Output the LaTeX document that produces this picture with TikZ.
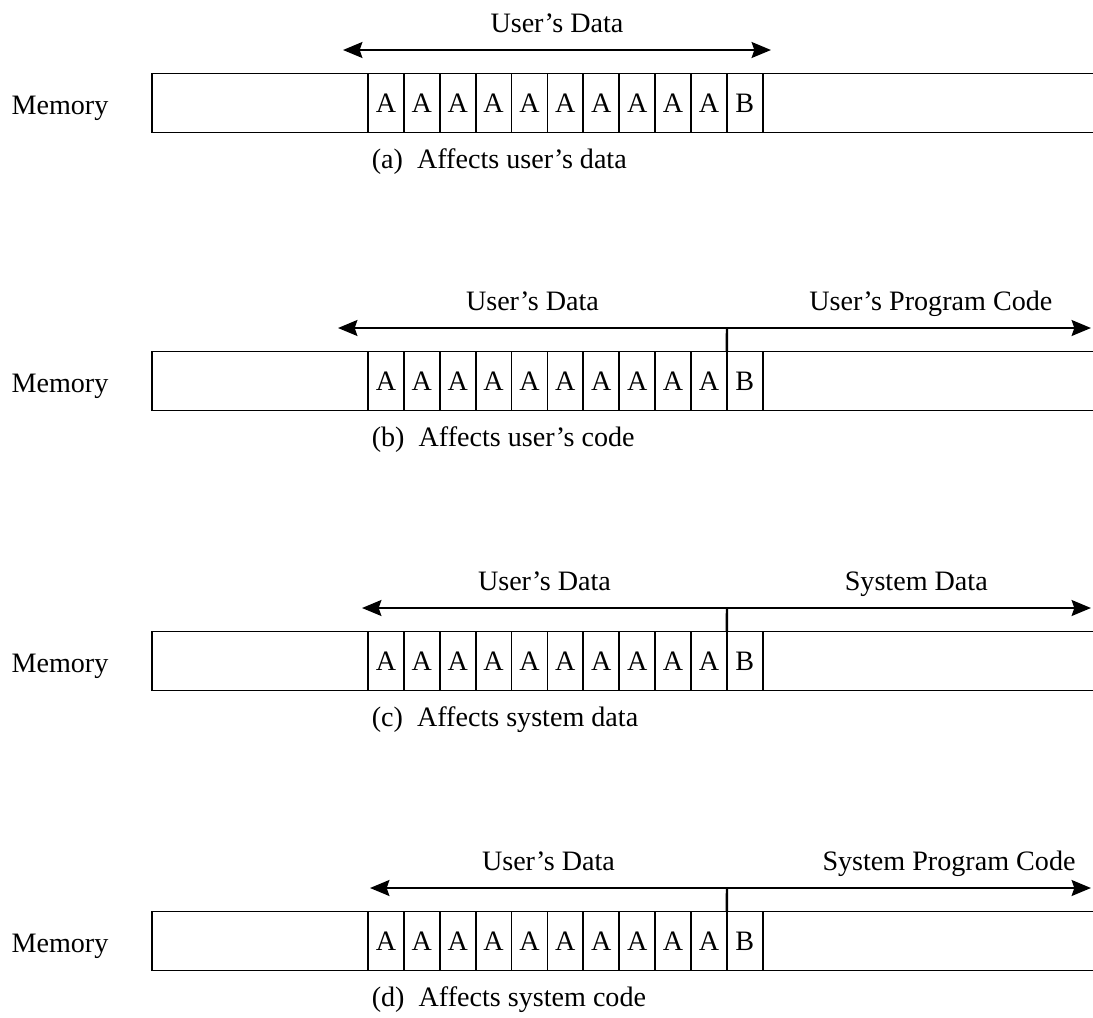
\documentclass[tikz,border=0pt]{standalone}
\usepackage{fontspec}
\setmainfont{Liberation Serif}
\usetikzlibrary{positioning, arrows.meta}

\begin{document}
\begin{tikzpicture}[x=0.02cm, y=-0.02cm,
            txt/.style={font=\fontsize{16}{19}\selectfont, inner sep=2pt, text height=0.72em, text depth=0.24em},
            box/.style={draw=black, line width=1pt, minimum height=1.18cm, inner sep=0pt, outer sep=0pt},
            cell/.style={box, font=\fontsize{16}{19}\selectfont, minimum width=0.718cm},
            span/.style={line width=1.4pt, >={Stealth[length=11pt, width=9pt, inset=1.5pt]}}
        ]
            \useasboundingbox (0,0) rectangle (1093,1018);

            % memory rows
            \foreach \pn/\ym/\capt in {a/103/{(a)\enspace Affects user's data}, b/381/{(b)\enspace Affects user's code}, c/661/{(c)\enspace Affects system data}, d/941/{(d)\enspace Affects system code}} {
                \node[box, minimum width=4.32cm, anchor=west] (\pn0) at (152,\ym) {};
                \foreach \i [remember=\i as \j (initially 0)] in {1,...,10}
                    \node[cell, right=0pt of \pn\j] (\pn\i) {A};
                \node[cell, right=0pt of \pn10] (\pn11) {B};
                \node[box, minimum width=6.9cm, right=0pt of \pn11] (\pn12) {};
                \node[txt] (mem\pn) at (60,\ym+7) {Memory};
                \node[txt, below right=11pt and 0pt of \pn1.south west] (cap\pn) {\capt};
            }

            % (a) arrow
            \coordinate (aL) at (343,50);
            \coordinate (aR) at (771,50);
            \draw[span, <->] (aL) -- (aR) node[txt, midway, above=5pt] (labA) {User's Data};

            % (b)-(d) arrows with divider
            \foreach \pn/\ya/\xl/\ps/\lab in {b/328/338/0.56/{User's Program Code}, c/608/362/0.52/{System Data}, d/888/370/0.61/{System Program Code}} {
                \coordinate (\pn L) at (\xl,\ya);
                \coordinate (\pn T) at (727,\ya);
                \coordinate (\pn R) at (1091,\ya);
                \draw[span, <-] (\pn L) -- (\pn T) node[txt, midway, above=5pt] {User's Data};
                \draw[span, ->] (\pn T) -- (\pn R) node[txt, pos=\ps, above=5pt] {\lab};
                \draw[span] (\pn T) -- (\pn11.north west);
            }
        \end{tikzpicture}
\end{document}
